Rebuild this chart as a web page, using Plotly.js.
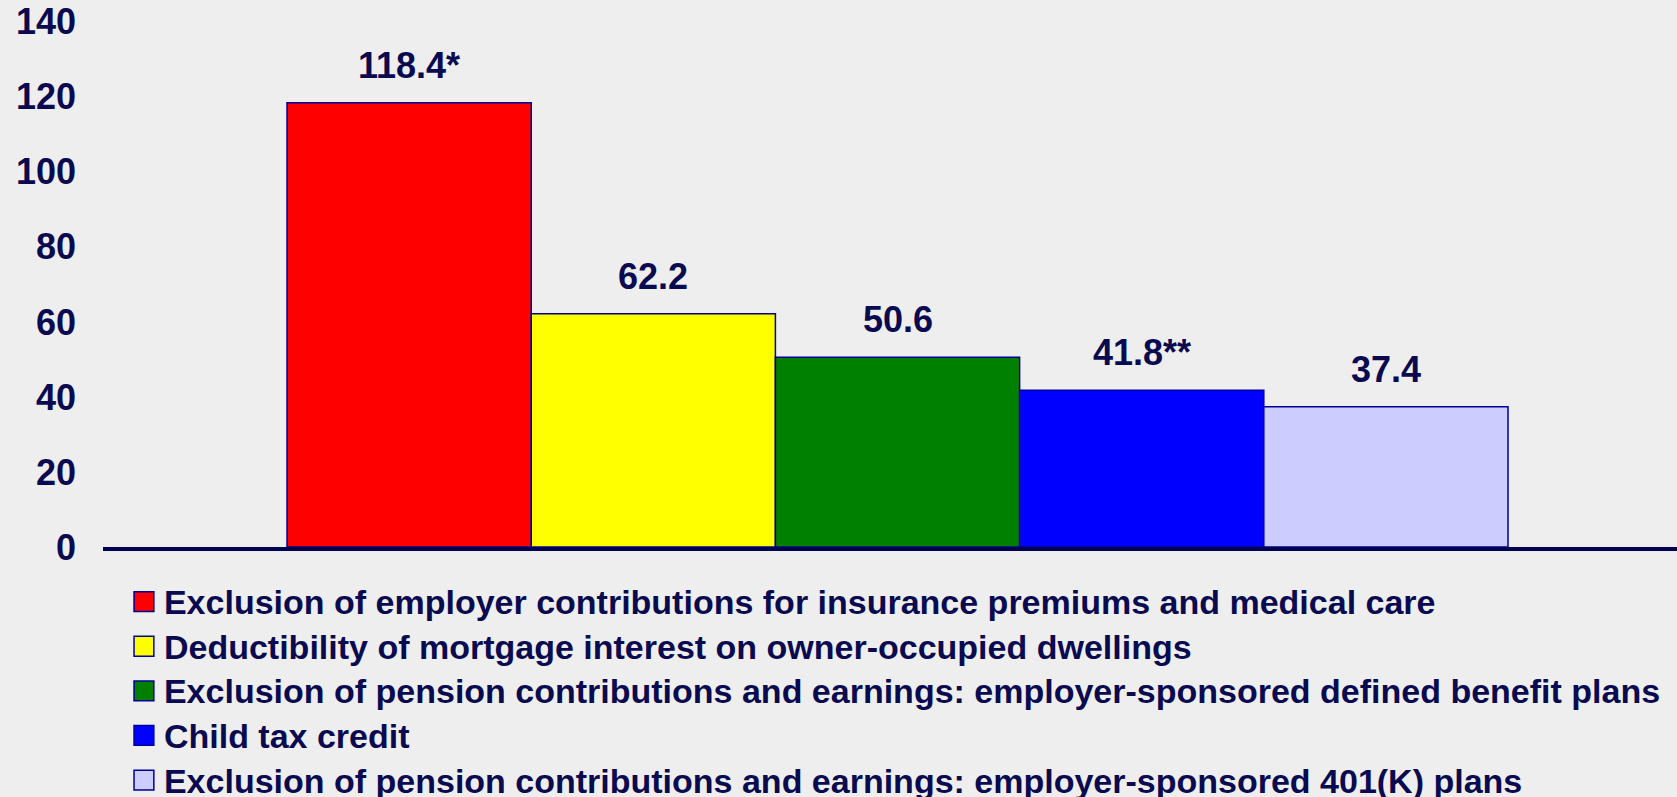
<!DOCTYPE html>
<html>
<head>
<meta charset="utf-8">
<script src="https://cdn.plot.ly/plotly-3.0.1.min.js"></script>
<style>
  html, body { margin: 0; padding: 0; background: #eeeeee; }
  #chart { width: 1677px; height: 797px; }
</style>
</head>
<body>
<div id="chart"></div>
<script>
// Data
const categories = [
  "Exclusion of employer contributions for insurance premiums and medical care",
  "Deductibility of mortgage interest on owner-occupied dwellings",
  "Exclusion of pension contributions and earnings: employer-sponsored defined benefit plans",
  "Child tax credit",
  "Exclusion of pension contributions and earnings: employer-sponsored 401(K) plans"
];
const values = [118.4, 62.2, 50.6, 41.8, 37.4];
const valueLabels = ["118.4*", "62.2", "50.6", "41.8**", "37.4"];
const colors = ["#ff0000", "#ffff00", "#008000", "#0000ff", "#ccccff"];
const yTicks = [0, 20, 40, 60, 80, 100, 120, 140];

const navy = "#0a0a50";
const fontFam = "Arial, 'Liberation Sans', Helvetica, sans-serif";

const traces = categories.map((name, i) => ({
  type: "bar",
  name: '<span style="font-size:34px">' + name + '</span>',
  x: [i],
  y: [values[i]],
  width: [1],
  marker: { color: colors[i], line: { color: "#000099", width: 1.5 } },
  hoverinfo: "skip"
}));

const annotations = values.map((v, i) => ({
  x: i, y: v, xref: "x", yref: "y",
  text: valueLabels[i],
  showarrow: false,
  yanchor: "bottom",
  yshift: 15,
  font: { family: fontFam, size: 36, color: navy, weight: "bold" }
}));

const layout = {
  width: 1677,
  height: 797,
  margin: { l: 103, r: 0, t: 0, b: 250.3, autoexpand: false },
  paper_bgcolor: "#eeeeee",
  plot_bgcolor: "rgba(0,0,0,0)",
  barmode: "overlay",
  showlegend: true,
  legend: {
    x: 0.0133, xanchor: "left",
    y: -0.050, yanchor: "top",
    font: { family: fontFam, size: 32, color: navy, weight: "bold" },
    bgcolor: "rgba(0,0,0,0)",
    traceorder: "normal"
  },
  xaxis: {
    range: [-1.2535, 5.192],
    showticklabels: false,
    showgrid: false,
    zeroline: false,
    showline: true,
    linecolor: "#000050",
    linewidth: 4,
    ticks: "",
    fixedrange: true
  },
  yaxis: {
    range: [0, 145.8],
    tickvals: yTicks,
    ticktext: yTicks.map(String),
    tickfont: { family: fontFam, size: 36, color: navy, weight: "bold" },
    showgrid: false,
    zeroline: false,
    showline: false,
    ticks: "",
    ticklabelstandoff: 26,
    fixedrange: true
  },
  annotations: annotations
};

Plotly.newPlot("chart", traces, layout, { displayModeBar: false, staticPlot: true }).then(gd => {
  // enlarge the legend colour squares to match the reference
  gd.querySelectorAll(".legend .legendpoints path").forEach(p => {
    const t = p.getAttribute("transform") || "";
    p.setAttribute("transform", (t + " scale(1.65)").trim());
    p.style.vectorEffect = "non-scaling-stroke";
  });
});
</script>
</body>
</html>
